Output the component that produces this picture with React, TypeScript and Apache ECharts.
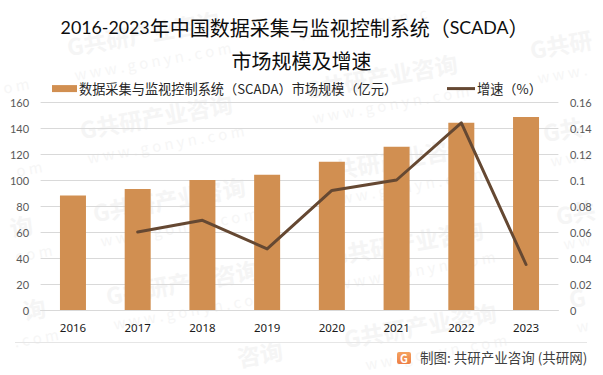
import React, { useEffect, useRef } from "react";
import * as echarts from "echarts";

const years = ["2016", "2017", "2018", "2019", "2020", "2021", "2022", "2023"];
const marketSize = [88, 93, 100, 104, 114, 125.5, 144, 148.4];
const growth = [null, 0.06, 0.069, 0.047, 0.092, 0.1, 0.144, 0.035];
const barName = "数据采集与监视控制系统（SCADA）市场规模（亿元）";
const lineName = "增速（%）";
const titleLine1 = "{a|2016-2023}{b|年中国数据采集与监视控制系统（}{a|SCADA}{b|）}";
const titleLine2 = "{b|市场规模及增速}";
const footer = "制图: 共研产业咨询 (共研网)";
const wmBrand = "G共研产业咨询".split("");
const wmSite = "www.gonyn.com".split("");
const cjk = '"Noto Sans CJK SC", "Noto Sans", sans-serif';
const W = 603;
const H = 375;

// One faint watermark line, trimmed to the glyphs that stay on the canvas.
function wmLine(x: number, y: number, glyphs: string[], adv: number, sep: string, font: string, fill: string) {
  const a = (10 * Math.PI) / 180;
  const inside = glyphs.map((_, i) => {
    const gx = x + i * adv * Math.cos(a);
    const gy = y - i * adv * Math.sin(a);
    return gx > 1 && gx + adv < W - 1 && gy > 2 && gy + adv < H - 2;
  });
  const first = inside.indexOf(true);
  const last = inside.lastIndexOf(true);
  if (first < 0) return null;
  return {
    type: "text", z: -1, silent: true, rotation: a,
    x: x + first * adv * Math.cos(a), y: y - first * adv * Math.sin(a),
    style: { text: glyphs.slice(first, last + 1).join(sep), fill, font },
  };
}

export default function App() {
  const ref = useRef<HTMLDivElement>(null);
  useEffect(() => {
    const chart = echarts.init(ref.current!, undefined, { renderer: "svg" });
    const watermarks: any[] = [];
    for (let i = -2; i < 5; i++) {
      for (let j = -2; j < 7; j++) {
        const x = 65 + 225 * i + 13 * j;
        const y = 35 - 40 * i + 83 * j;
        const b = wmLine(x, y, wmBrand, 24, "", `bold 23px ${cjk}`, "#f5f5f5");
        const s = wmLine(x + 8, y + 32, wmSite, 14.2, " ", `15px ${cjk}`, "#f6f6f6");
        if (b) watermarks.push(b);
        if (s) watermarks.push(s);
      }
    }
    const rich = {
      a: { fontFamily: "Lato", fontSize: 17.8, fill: "#0d0d0d", color: "#0d0d0d" },
      b: { fontFamily: cjk, fontSize: 20, fill: "#0d0d0d", color: "#0d0d0d" },
    };
    const legendText = { fontSize: 13.2, color: "#262626", fontFamily: cjk, padding: [0, 0, 0, -3] };
    chart.setOption({
      animation: false,
      backgroundColor: "#ffffff",
      textStyle: { fontFamily: cjk },
      grid: { left: 40.6, right: 44.6, top: 102, bottom: 65 },
      legend: [
        {
          left: 47, top: 77, itemWidth: 25, itemHeight: 7,
          textStyle: legendText,
          data: [{ name: barName, icon: "rect" }],
        },
        {
          left: 442, top: 77, itemWidth: 28, itemHeight: 3,
          textStyle: legendText,
          lineStyle: { width: 0 },
          itemStyle: { color: "#654832" },
          data: [{ name: lineName, icon: "rect" }],
        },
      ],
      xAxis: {
        type: "category", data: years,
        axisLine: { lineStyle: { color: "#d9d9d9" } }, axisTick: { show: false },
        axisLabel: { color: "#1a1a1a", fontSize: 11.5, margin: 11, fontFamily: "Noto Sans" },
      },
      yAxis: [
        {
          type: "value", min: 0, max: 160, interval: 20,
          axisLine: { show: false }, axisTick: { show: false },
          axisLabel: { color: "#595959", fontSize: 11, margin: 11.5, fontFamily: "Lato" },
          splitLine: { lineStyle: { color: "#d9d9d9" } },
        },
        {
          type: "value", min: 0, max: 0.16, interval: 0.02,
          axisLine: { show: false }, axisTick: { show: false },
          axisLabel: { color: "#595959", fontSize: 11, margin: 11.5, fontFamily: "Lato" },
          splitLine: { show: false },
        },
      ],
      series: [
        { name: barName, type: "bar", data: marketSize, barWidth: 26, itemStyle: { color: "#d18f51" } },
        {
          name: lineName, type: "line", yAxisIndex: 1, data: growth, symbol: "none", connectNulls: false,
          lineStyle: { color: "#654832", width: 3, cap: "round", join: "round" }, itemStyle: { color: "#654832" },
        },
      ],
      graphic: [
        ...watermarks,
        { type: "text", x: 294.5, y: 27, style: { text: titleLine1, rich, align: "center", verticalAlign: "middle" } },
        { type: "text", x: 301.5, y: 60, style: { text: titleLine2, rich, align: "center", verticalAlign: "middle" } },
        { type: "line", shape: { x1: 15, y1: 342.5, x2: 587, y2: 342.5 }, style: { stroke: "#e6e6e6", lineWidth: 1 } },
        {
          type: "rect", shape: { x: 397, y: 352, width: 14, height: 12, r: 2 },
          style: {
            fill: new echarts.graphic.LinearGradient(0, 0, 0, 1, [
              { offset: 0, color: "#f4a261" },
              { offset: 1, color: "#ee7f45" },
            ]),
          },
        },
        { type: "text", x: 404, y: 358, style: { text: "G", fill: "#ffffff", font: `bold 11px ${cjk}`, align: "center", verticalAlign: "middle" } },
        { type: "text", x: 420, y: 357, style: { text: footer, fill: "#404040", font: `13.5px ${cjk}`, verticalAlign: "middle" } },
      ],
    });
    return () => chart.dispose();
  }, []);
  return <div ref={ref} style={{ position: "fixed", left: 0, top: 0, width: W, height: H }} />;
}
